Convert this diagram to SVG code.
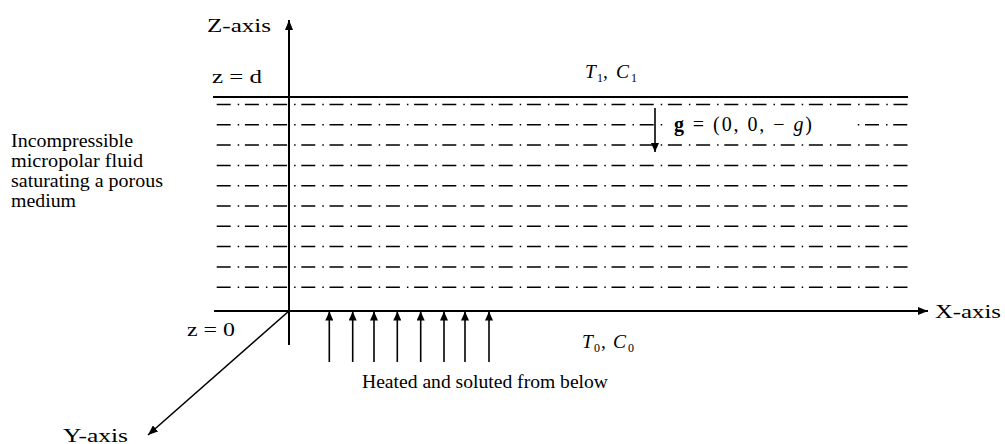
<svg xmlns="http://www.w3.org/2000/svg" width="1005" height="444" viewBox="0 0 1005 444">
<style>
  text { font-family: "Liberation Serif", "Times New Roman", serif; fill: #000; }
  .lbl { font-size: 19.5px; }
  .small { font-size: 19px; }
  .it { font-style: italic; }
  .sub { font-size: 12px; }
  .axis { stroke: #000; stroke-width: 2; fill: none; }
  .solid { stroke: #000; stroke-width: 2; fill: none; }
  .dd { stroke: #000; stroke-width: 1.5; fill: none; stroke-dasharray: 14 7 1.5 5.7; }
  .arr { stroke: #000; stroke-width: 1.6; fill: none; }
</style>
<defs>
  <marker id="ah" viewBox="0 0 10 8" refX="10" refY="4" markerWidth="10" markerHeight="8" markerUnits="userSpaceOnUse" orient="auto">
    <path d="M0,0 L10,4 L0,8 z" fill="#000"/>
  </marker>
  <marker id="ahs" viewBox="0 0 9 8" refX="9" refY="4" markerWidth="9" markerHeight="8" markerUnits="userSpaceOnUse" orient="auto">
    <path d="M0,0 L9,4 L0,8 z" fill="#000"/>
  </marker>
</defs>
<rect width="1005" height="444" fill="#fff"/>

<g id="layer">
  <line class="solid" x1="213" y1="97" x2="908" y2="97"/>
  <line class="dd" x1="216.7" y1="104.5" x2="908" y2="104.5"/>
  <line class="dd" x1="216.7" y1="124.8" x2="663" y2="124.8"/>
  <line class="dd" x1="857.8" y1="124.8" x2="908" y2="124.8" stroke-dashoffset="21"/>
  <line class="dd" x1="216.7" y1="145.1" x2="908" y2="145.1"/>
  <line class="dd" x1="216.7" y1="165.4" x2="908" y2="165.4"/>
  <line class="dd" x1="216.7" y1="185.7" x2="908" y2="185.7"/>
  <line class="dd" x1="216.7" y1="206" x2="908" y2="206"/>
  <line class="dd" x1="216.7" y1="226.3" x2="908" y2="226.3"/>
  <line class="dd" x1="216.7" y1="246.6" x2="908" y2="246.6"/>
  <line class="dd" x1="216.7" y1="266.9" x2="908" y2="266.9"/>
  <line class="dd" x1="216.7" y1="287.2" x2="908" y2="287.2"/>
</g>

<g id="connectors">
  <line class="axis" x1="289" y1="345" x2="289" y2="20" marker-end="url(#ah)"/>
  <line class="axis" x1="214" y1="311" x2="928" y2="311" marker-end="url(#ah)"/>
  <line class="arr" x1="289" y1="311" x2="148" y2="435" marker-end="url(#ah)"/>
  <line class="arr" x1="655" y1="108" x2="655" y2="152" marker-end="url(#ahs)"/>
  <line class="arr" x1="329.3" y1="362" x2="329.3" y2="311.5" marker-end="url(#ahs)"/>
  <line class="arr" x1="352.7" y1="362" x2="352.7" y2="311.5" marker-end="url(#ahs)"/>
  <line class="arr" x1="374" y1="362" x2="374" y2="311.5" marker-end="url(#ahs)"/>
  <line class="arr" x1="397.3" y1="362" x2="397.3" y2="311.5" marker-end="url(#ahs)"/>
  <line class="arr" x1="420.7" y1="362" x2="420.7" y2="311.5" marker-end="url(#ahs)"/>
  <line class="arr" x1="444" y1="362" x2="444" y2="311.5" marker-end="url(#ahs)"/>
  <line class="arr" x1="465" y1="362" x2="465" y2="311.5" marker-end="url(#ahs)"/>
  <line class="arr" x1="489" y1="362" x2="489" y2="311.5" marker-end="url(#ahs)"/>
</g>

<g id="z-axis-label"><text class="lbl" x="207" y="32" textLength="64" lengthAdjust="spacingAndGlyphs">Z-axis</text></g>
<g id="x-axis-label"><text class="lbl" x="935" y="318" textLength="66" lengthAdjust="spacingAndGlyphs">X-axis</text></g>
<g id="y-axis-label"><text class="lbl" x="63" y="442" textLength="65" lengthAdjust="spacingAndGlyphs">Y-axis</text></g>
<g id="z-d"><text class="lbl" x="212" y="83" textLength="50" lengthAdjust="spacingAndGlyphs">z = d</text></g>
<g id="z-0"><text class="lbl" x="187" y="336" textLength="48" lengthAdjust="spacingAndGlyphs">z = 0</text></g>

<g id="top-cond">
  <text class="lbl"><tspan class="it" x="585" y="78">T</tspan><tspan class="sub" x="597" y="82">1</tspan><tspan x="603" y="78">,</tspan><tspan class="it" x="616" y="78">C</tspan><tspan class="sub" x="631" y="82">1</tspan></text>
</g>
<g id="bottom-cond">
  <text class="lbl"><tspan class="it" x="582" y="348">T</tspan><tspan class="sub" x="594" y="352">0</tspan><tspan x="601" y="348">,</tspan><tspan class="it" x="613" y="348">C</tspan><tspan class="sub" x="628" y="352">0</tspan></text>
</g>

<g id="gravity">
  <text x="674" y="131" style="font-size:20px" textLength="138" lengthAdjust="spacing"><tspan font-weight="bold">g</tspan> = (0, 0, − <tspan class="it">g</tspan>)</text>
</g>

<g id="fluid-label">
  <text class="small" x="11" y="147" textLength="122" lengthAdjust="spacingAndGlyphs">Incompressible</text>
  <text class="small" x="11" y="167" textLength="132" lengthAdjust="spacingAndGlyphs">micropolar fluid</text>
  <text class="small" x="11" y="187" textLength="152" lengthAdjust="spacingAndGlyphs">saturating a porous</text>
  <text class="small" x="11" y="207" textLength="65" lengthAdjust="spacingAndGlyphs">medium</text>
</g>

<g id="heating-label">
  <text class="small" x="362" y="388" textLength="246" lengthAdjust="spacingAndGlyphs">Heated and soluted from below</text>
</g>
</svg>
